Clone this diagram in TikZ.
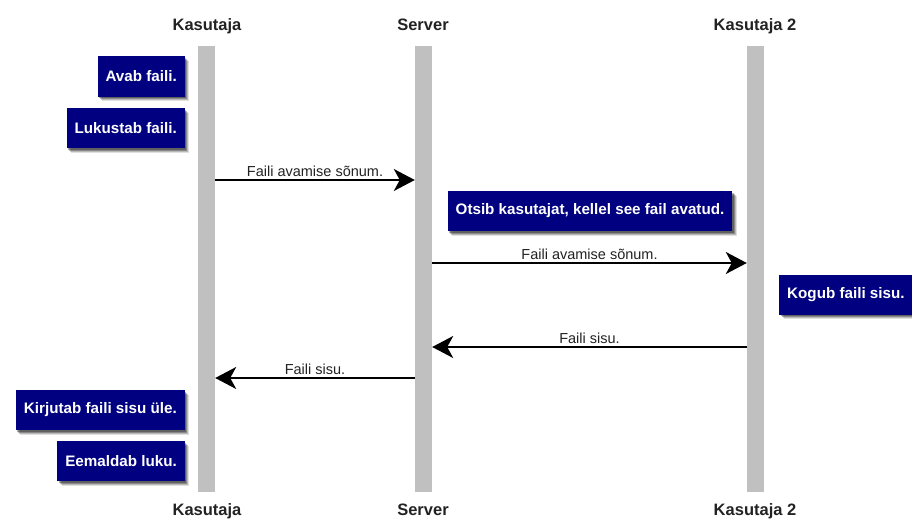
\documentclass[tikz,border=0pt]{standalone}
\usepackage{fontspec}
\setmainfont{Liberation Sans}
\usetikzlibrary{arrows.meta,shadows}
\definecolor{barcol}{HTML}{C0C0C0}
\definecolor{navybox}{HTML}{000080}
\definecolor{lblcol}{HTML}{222222}
\begin{document}
\begin{tikzpicture}[x=1pt,y=-1pt,
  lifeline/.style={fill=barcol, draw=none, minimum width=17pt, minimum height=446pt, inner sep=0pt},
  head/.style={font=\fontsize{16.5}{18}\selectfont\bfseries, text=lblcol, anchor=base, inner sep=0pt},
  actbox/.style={fill=navybox, text=white, font=\fontsize{15.2}{17}\selectfont\bfseries,
    minimum height=40pt, inner xsep=8pt, inner ysep=0pt,
    drop shadow={shadow xshift=4.5pt, shadow yshift=-4.5pt, opacity=0.12, fill=black},
    drop shadow={shadow xshift=3.5pt, shadow yshift=-3.5pt, opacity=0.18, fill=black},
    drop shadow={shadow xshift=2.5pt, shadow yshift=-2.5pt, opacity=0.25, fill=black},
    drop shadow={shadow xshift=1.5pt, shadow yshift=-1.5pt, opacity=0.3, fill=black}},
  msg/.style={line width=2pt, draw=black, -{Stealth[length=21pt,width=22pt,inset=6pt]}},
  lbl/.style={font=\fontsize{14.5}{16}\selectfont, text=lblcol, anchor=base, inner sep=0pt, yshift=3.5pt}]
\useasboundingbox (0,0) rectangle (912,519);

% lifelines
\node[lifeline] (kas)  at (206.5,269) {};
\node[lifeline] (srv)  at (423.5,269) {};
\node[lifeline] (kas2) at (755.5,269) {};

% headers
\node[head] (h1) at (207,31) {Kasutaja};
\node[head] (h2) at (423,31) {Server};
\node[head] (h3) at (755,31) {Kasutaja 2};
\node[head] (f1) at (207,515.5) {Kasutaja};
\node[head] (f2) at (423,515.5) {Server};
\node[head] (f3) at (755,515.5) {Kasutaja 2};

% activity boxes
\node[actbox, anchor=east] (b1) at (185,76.5) {Avab faili.};
\node[actbox, anchor=east] (b2) at (185,128) {Lukustab faili.};
\node[actbox] (b3) at (590,211) {Otsib kasutajat, kellel see fail avatud.};
\node[actbox, anchor=west] (b4) at (779,294.5) {Kogub faili sisu.};
\node[actbox, anchor=east] (b5) at (185,410) {Kirjutab faili sisu üle.};
\node[actbox, anchor=east] (b6) at (185,461) {Eemaldab luku.};

% messages
\draw[msg] (kas.east |- 0,180) -- (srv.west |- 0,180)
  node[lbl, pos=0.5] {Faili avamise sõnum.};
\draw[msg] (srv.east |- 0,263) -- (kas2.west |- 0,263)
  node[lbl, pos=0.5] {Faili avamise sõnum.};
\draw[msg] (kas2.west |- 0,347) -- (srv.east |- 0,347)
  node[lbl, pos=0.5] {Faili sisu.};
\draw[msg] (srv.west |- 0,378) -- (kas.east |- 0,378)
  node[lbl, pos=0.5] {Faili sisu.};
\end{tikzpicture}
\end{document}
